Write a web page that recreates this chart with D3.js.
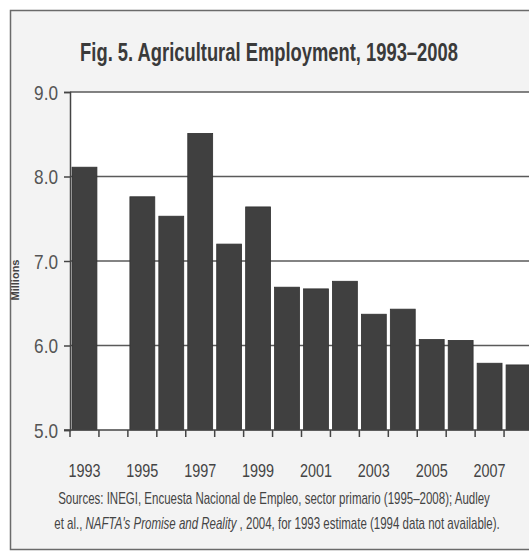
<!DOCTYPE html>
<html>
<head>
<meta charset="utf-8">
<script src="https://cdn.jsdelivr.net/npm/d3@7/dist/d3.min.js"></script>
<style>
  html, body { margin: 0; padding: 0; background: #ffffff; }
  svg { display: block; }
  text { font-family: "Liberation Sans", Arial, sans-serif; }
</style>
</head>
<body>
<svg id="chart" width="529" height="553"></svg>
<script>
// Agricultural employment in Mexico, millions of workers (1994 not available)
const years = ["1993","1994","1995","1996","1997","1998","1999","2000",
               "2001","2002","2003","2004","2005","2006","2007","2008"];
const employment = [8.11, null, 7.76, 7.53, 8.51, 7.20, 7.64, 6.69,
                    6.67, 6.76, 6.37, 6.43, 6.07, 6.06, 5.79, 5.77];
const yTicks = [5.0, 6.0, 7.0, 8.0, 9.0];
const xLabelYears = ["1993","1995","1997","1999","2001","2003","2005","2007"];

const titleText = "Fig. 5. Agricultural Employment, 1993\u20132008";
const sourceLine1 = "Sources: INEGI, Encuesta Nacional de Empleo, sector primario (1995\u20132008); Audley";

const svg = d3.select("#chart");
const W = 529;

// squeeze a text horizontally into a condensed face of the given width
function condense(sel, tx, ty, width) {
  sel.attr("x", 0).attr("y", 0);
  const natural = sel.node().getComputedTextLength();
  sel.attr("transform", `translate(${tx},${ty}) scale(${width / natural},1)`);
}
function condenseRatio(sel, tx, ty, ratio) {
  sel.attr("x", 0).attr("y", 0)
     .attr("transform", `translate(${tx},${ty}) scale(${ratio},1)`);
}

// frame
svg.append("rect")
  .attr("x", 10.5).attr("y", 10.5)
  .attr("width", W + 20).attr("height", 539)
  .attr("fill", "#f3f3f3")
  .attr("stroke", "#6a6a6a").attr("stroke-width", 1.5);

const plot = { left: 70, right: 533, top: 92, bottom: 430 };

const x = d3.scaleBand()
  .domain(years)
  .range([plot.left, plot.right])
  .paddingInner(0.14)
  .paddingOuter(0.07);

const y = d3.scaleLinear()
  .domain([5, 9])
  .range([plot.bottom, plot.top]);

// plot background
svg.append("rect")
  .attr("x", plot.left).attr("y", plot.top)
  .attr("width", plot.right - plot.left).attr("height", plot.bottom - plot.top)
  .attr("fill", "#ffffff");

// horizontal gridlines
svg.append("g")
  .selectAll("line")
  .data(yTicks.filter(d => d > 5))
  .join("line")
  .attr("x1", plot.left).attr("x2", plot.right + 10)
  .attr("y1", d => y(d)).attr("y2", d => y(d))
  .attr("stroke", "#5a5a5a").attr("stroke-width", 1.5);

// bars
svg.append("g")
  .selectAll("rect")
  .data(years.map((yr, i) => ({ yr, v: employment[i] })).filter(d => d.v != null))
  .join("rect")
  .attr("x", d => x(d.yr))
  .attr("width", x.bandwidth())
  .attr("y", d => y(d.v))
  .attr("height", d => y(5) - y(d.v))
  .attr("fill", "#404040")
  .attr("stroke", "#303030").attr("stroke-width", 0.8);

// y axis
const yAxis = d3.axisLeft(y)
  .tickValues(yTicks)
  .tickFormat(d3.format(".1f"))
  .tickSize(6);
const gy = svg.append("g")
  .attr("transform", `translate(${plot.left},0)`)
  .call(yAxis);
gy.select(".domain").attr("stroke", "#444").attr("stroke-width", 1.5);
gy.selectAll(".tick line").attr("stroke", "#444").attr("stroke-width", 1.5);
gy.selectAll(".tick text")
  .attr("font-size", 20)
  .attr("font-family", "Liberation Sans, Arial, sans-serif")
  .attr("fill", "#555")
  .attr("dy", "0.35em")
  .each(function () { condenseRatio(d3.select(this), -12, 0, 0.86); });

// x axis: ticks at category boundaries, labels on odd years
const step = x.step();
const boundaries = d3.range(years.length + 1).map(i => plot.left + i * step);
const gx = svg.append("g");
gx.append("line")
  .attr("x1", plot.left - 6).attr("x2", plot.right + 10)
  .attr("y1", plot.bottom).attr("y2", plot.bottom)
  .attr("stroke", "#444").attr("stroke-width", 1.5);
gx.selectAll("line.tk")
  .data(boundaries)
  .join("line")
  .attr("class", "tk")
  .attr("x1", d => d).attr("x2", d => d)
  .attr("y1", plot.bottom).attr("y2", plot.bottom + 7)
  .attr("stroke", "#444").attr("stroke-width", 1.5);
gx.selectAll("text")
  .data(xLabelYears)
  .join("text")
  .attr("text-anchor", "middle")
  .attr("font-size", 18)
  .attr("fill", "#444")
  .text(d => d)
  .each(function (d) { condenseRatio(d3.select(this), x(d) + x.bandwidth() / 2, 477, 0.8); });

// y axis title
svg.append("text")
  .attr("transform", "translate(19,280) rotate(-90)")
  .attr("text-anchor", "middle")
  .attr("font-weight", "bold")
  .attr("font-size", 11)
  .attr("fill", "#444")
  .text("Millions");

// title
condense(
  svg.append("text")
    .attr("text-anchor", "middle")
    .attr("font-size", 25)
    .attr("font-weight", "bold")
    .attr("fill", "#3a3a3a")
    .text(titleText),
  269, 61, 378);

// sources
const src = svg.append("g").attr("fill", "#444").attr("font-size", 16);
condense(
  src.append("text").attr("text-anchor", "middle").text(sourceLine1),
  274, 504, 432);
const line2 = src.append("text").attr("text-anchor", "middle");
line2.append("tspan").text("et al., ");
line2.append("tspan").attr("font-style", "italic").text("NAFTA's Promise and Reality");
line2.append("tspan").text(" , 2004, for 1993 estimate (1994 data not available).");
condense(line2, 277, 529, 446);
</script>
</body>
</html>
